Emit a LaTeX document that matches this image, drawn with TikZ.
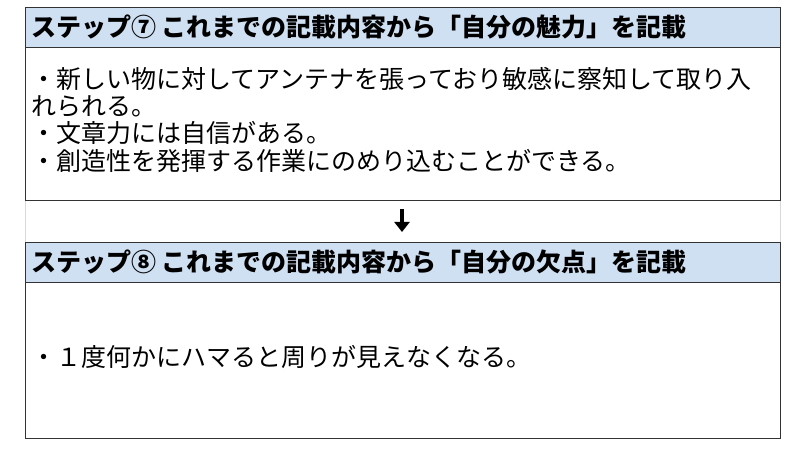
\documentclass[tikz,border=0pt]{standalone}
\usepackage{fontspec}
\setmainfont{Noto Sans CJK JP}
\usetikzlibrary{arrows.meta}
\begin{document}
\begin{tikzpicture}[x=1pt,y=-1pt,
  hdr/.style={draw=black!80,line width=0.9pt,fill={rgb,255:red,207;green,224;blue,242}},
  bodybox/.style={draw=black!80,line width=0.9pt,fill=white},
  htext/.style={anchor=west,inner sep=0pt,font=\fontsize{25}{28}\selectfont\bfseries},
  btext/.style={anchor=west,inner sep=0pt,font=\fontsize{25}{28}\selectfont}]
\useasboundingbox (0,0) rectangle (800,454);
\draw[black!15] (25,200) -- (25,242) (780,200) -- (780,242);
\draw[hdr] (25,7) rectangle (780,47);
\draw[bodybox] (25,47) rectangle (780,200);
\node[htext] (h1) at (31,27) {ステップ⑦ これまでの記載内容から「自分の魅力」を記載};
\node[btext] (t1) at (31,79) {・新しい物に対してアンテナを張っており敏感に察知して取り入};
\node[btext] (t2) at (31,106) {れられる。};
\node[btext] (t3) at (31,133) {・文章力には自信がある。};
\node[btext] (t4) at (31,161) {・創造性を発揮する作業にのめり込むことができる。};
\coordinate (a1) at (402,209);
\coordinate (a2) at (402,232);
\draw[line width=4.5pt,-{Triangle[length=10pt,width=15pt]}] (a1) -- (a2);
\draw[hdr] (25,242) rectangle (780,282);
\draw[bodybox] (25,282) rectangle (780,438);
\node[htext] (h2) at (31,262) {ステップ⑧ これまでの記載内容から「自分の欠点」を記載};
\node[btext] (t5) at (31,357) {・１度何かにハマると周りが見えなくなる。};
\end{tikzpicture}
\end{document}
